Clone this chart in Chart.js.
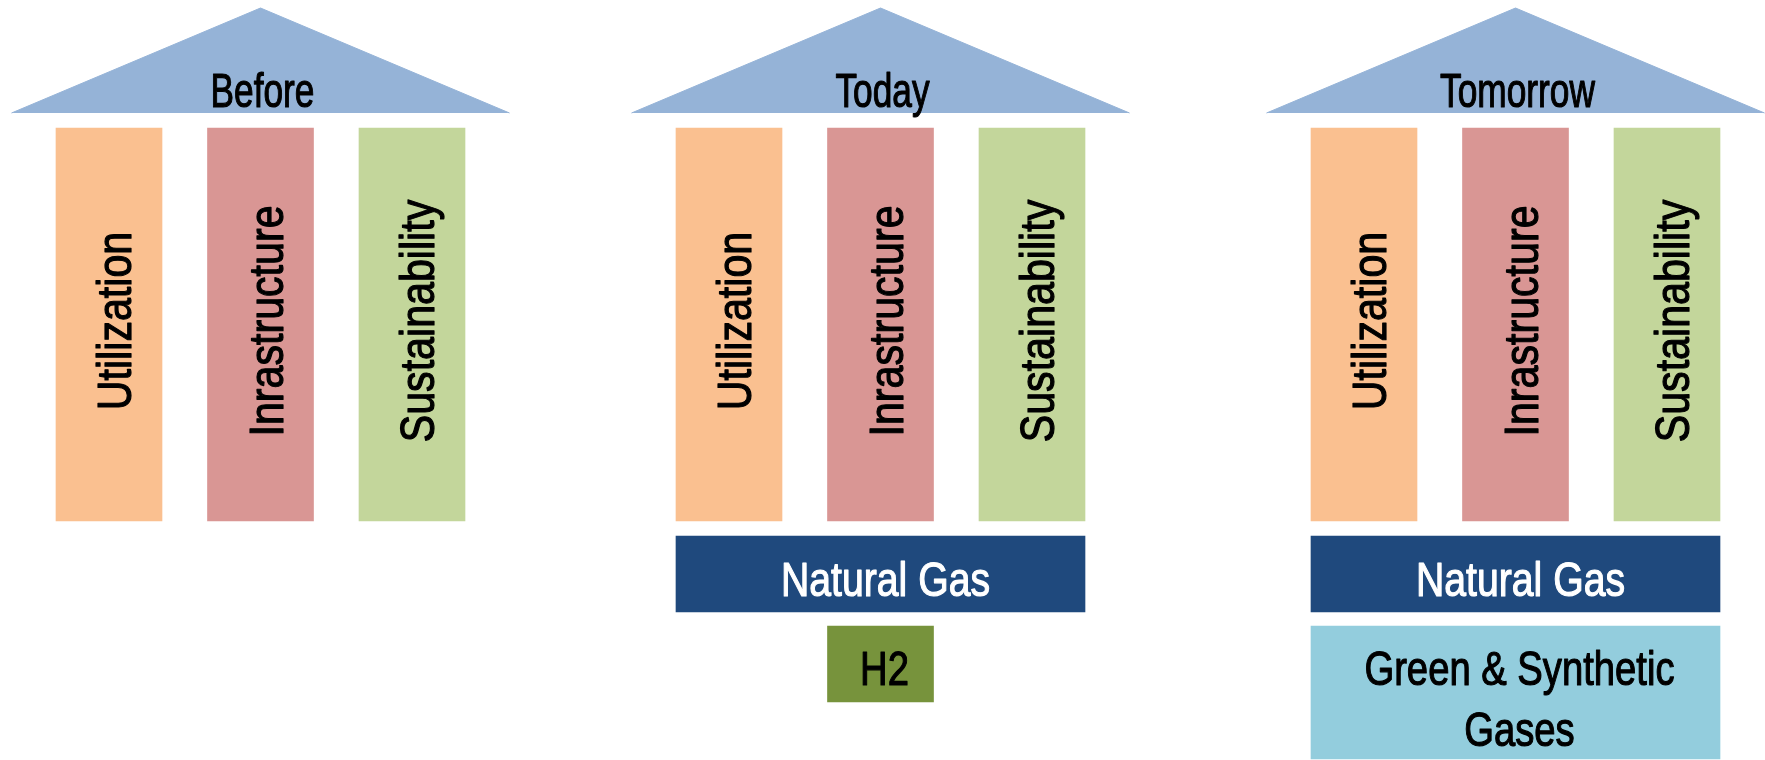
<!DOCTYPE html>
<html>
<head>
<meta charset="utf-8">
<script src="https://cdn.jsdelivr.net/npm/chart.js@4/dist/chart.umd.min.js"></script>
<style>
  html, body { margin: 0; padding: 0; background: #ffffff; }
  #wrap { width: 1765px; height: 760px; position: relative; }
</style>
</head>
<body>
<div id="wrap"><canvas id="pillars"></canvas></div>
<script>
// --- data ---
const groups = ['Before', 'Today', 'Tomorrow'];
const pillars = ['Utilization', 'Inrastructure', 'Sustainability'];
const gasLayer = [null, 'Natural Gas', 'Natural Gas'];
const lowerLayer = [null, 'H2', 'Green & Synthetic\nGases'];
const lowerWide = [false, false, true];

// --- layout (pixel units of the 1765 x 760 canvas) ---
const groupCenters = [260.5, 880.5, 1515.5];
const pillarPitch = 151.5;
const pillarWidth = 106;
const roof = { apex: 8, base: 113, half: 249 };
const pillarSpan = [128, 521];
const gasSpan = [536, 612];
const lowerSpan = [[626, 702], [626, 759]];
const wideWidth = 409;

const pillarColors = ['#FAC090', '#D99694', '#C3D69B'];
const roofColor = '#95B3D7';
const gasColor = '#1F497D';
const lowerColors = ['#77933C', '#93CDDD'];
const FONT = "'Liberation Sans', Arial, sans-serif";

const datasets = [];

// roofs
groups.forEach((g, i) => {
    const c = groupCenters[i];
    datasets.push({
        type: 'line',
        label: g,
        data: [
            { x: c - roof.half, y: roof.base },
            { x: c, y: roof.apex },
            { x: c + roof.half, y: roof.base }
        ],
        backgroundColor: roofColor,
        borderColor: roofColor,
        borderWidth: 1,
        pointRadius: 0,
        fill: 'shape',
        tension: 0
    });
});

// pillars, one dataset per pillar kind
pillars.forEach((p, j) => {
    datasets.push({
        type: 'bar',
        label: p,
        data: groups.map((g, i) => ({ x: groupCenters[i] + (j - 1) * pillarPitch, y: pillarSpan })),
        backgroundColor: pillarColors[j],
        barThickness: pillarWidth,
        grouped: false
    });
});

// natural gas foundation
datasets.push({
    type: 'bar',
    label: 'gas',
    data: gasLayer.map((t, i) => t ? { x: groupCenters[i], y: gasSpan } : null).filter(Boolean),
    backgroundColor: gasColor,
    barThickness: wideWidth,
    grouped: false
});

// lower layer: narrow H2 block and wide green gases block
lowerLayer.forEach((t, i) => {
    if (!t) return;
    const wide = lowerWide[i];
    datasets.push({
        type: 'bar',
        label: t,
        data: [{ x: groupCenters[i], y: lowerSpan[wide ? 1 : 0] }],
        backgroundColor: lowerColors[wide ? 1 : 0],
        barThickness: wide ? wideWidth : pillarWidth,
        grouped: false
    });
});

// squeezed text, the original uses a narrow DIN-like face (a bit heavier than regular)
function squeezedText(ctx, text, x, y, k, angle) {
    ctx.save();
    ctx.translate(x, y);
    if (angle) ctx.rotate(angle);
    ctx.scale(k, 1);
    ctx.strokeStyle = ctx.fillStyle;
    ctx.lineWidth = 1.2;
    ctx.lineJoin = 'round';
    ctx.fillText(text, 0, 0);
    ctx.strokeText(text, 0, 0);
    ctx.restore();
}

const textPlugin = {
    id: 'diagramText',
    afterDatasetsDraw(chart) {
        const ctx = chart.ctx;
        const sx = chart.scales.x, sy = chart.scales.y;
        ctx.save();
        ctx.textBaseline = 'alphabetic';
        ctx.textAlign = 'center';
        ctx.font = '49px ' + FONT;

        groups.forEach((g, i) => {
            const c = groupCenters[i];
            // roof title
            ctx.fillStyle = '#000000';
            squeezedText(ctx, g, sx.getPixelForValue(c + 2), sy.getPixelForValue(107), 0.72);

            // pillar names, rotated
            pillars.forEach((p, j) => {
                squeezedText(ctx, p, sx.getPixelForValue(c + (j - 1) * pillarPitch + 22),
                    sy.getPixelForValue(321), 0.84, -Math.PI / 2);
            });

            if (gasLayer[i]) {
                ctx.fillStyle = '#FFFFFF';
                squeezedText(ctx, gasLayer[i], sx.getPixelForValue(c + 5), sy.getPixelForValue(596), 0.8);
            }
            if (lowerLayer[i]) {
                ctx.fillStyle = '#000000';
                lowerLayer[i].split('\n').forEach((ln, k) => {
                    squeezedText(ctx, ln, sx.getPixelForValue(c + 4), sy.getPixelForValue(685 + k * 61), 0.78);
                });
            }
        });
        ctx.restore();
    }
};

new Chart(document.getElementById('pillars'), {
    data: { datasets: datasets },
    options: {
        responsive: true,
        maintainAspectRatio: false,
        animation: false,
        layout: { padding: 0 },
        plugins: {
            legend: { display: false },
            tooltip: { enabled: false }
        },
        scales: {
            x: { type: 'linear', min: 0, max: 1765, offset: false, display: false },
            y: { type: 'linear', min: 0, max: 760, reverse: true, display: false }
        }
    },
    plugins: [textPlugin]
});
</script>
</body>
</html>
